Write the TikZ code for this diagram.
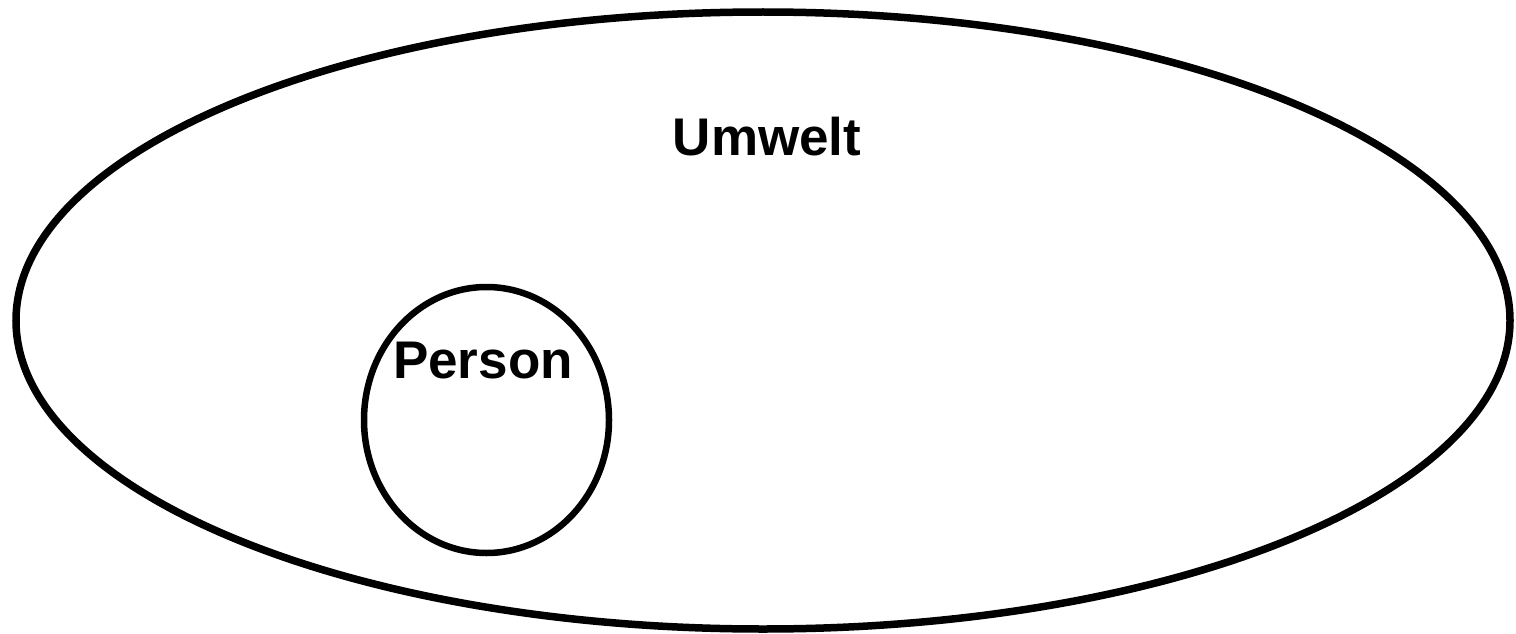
\documentclass[tikz,border=0pt]{standalone}
\usepackage{fontspec}
\setmainfont{Liberation Sans}
\begin{document}
\begin{tikzpicture}[x=1pt,y=-1pt,
    label/.style={font=\bfseries\fontsize{53}{60}\selectfont, inner sep=0pt, anchor=base}]
        \useasboundingbox (0,0) rectangle (1516,634);
        \draw[line width=7.5pt,black] (763,320.5) ellipse (747 and 308.5);
        \draw[line width=6.5pt,black] (486.5,420) ellipse (122.5 and 133);
        \node[label] (umwelt) at (767,155) {Umwelt};
        \node[label] (person) at (483,378) {Person};
\end{tikzpicture}
\end{document}
